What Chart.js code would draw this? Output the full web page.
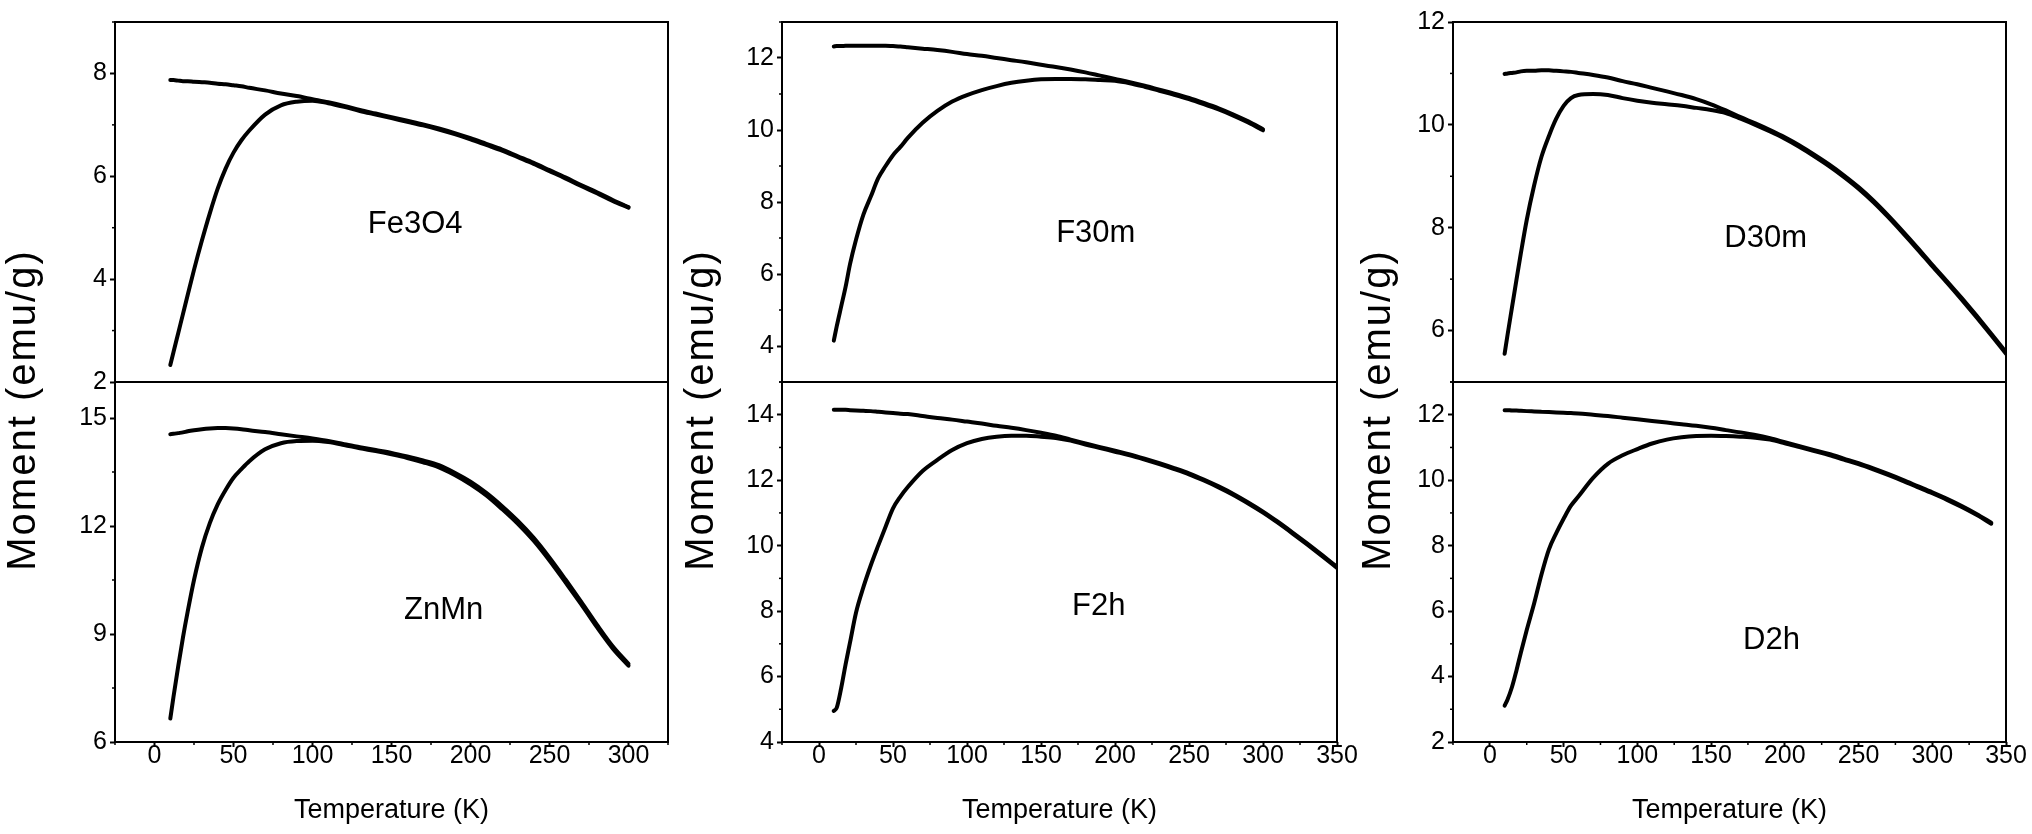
<!DOCTYPE html>
<html>
<head>
<meta charset="utf-8">
<script src="https://cdn.jsdelivr.net/npm/chart.js@4.4.1/dist/chart.umd.min.js"></script>
<style>
  body { margin: 0; background: #fff; width: 2032px; height: 834px; position: relative; overflow: hidden; }
  canvas { position: absolute; top: 0; }
</style>
</head>
<body>
<canvas id="c1" width="690" height="834" style="left:0px"></canvas>
<canvas id="c2" width="693" height="834" style="left:672px"></canvas>
<canvas id="c3" width="687" height="834" style="left:1345px"></canvas>
<script>
// temperatures (K)
const tempTo300 = [10, 12, 15, 18, 21, 25, 30, 35, 40, 45, 50, 55, 60, 70, 80, 90, 100, 110, 120, 130, 140, 150,
  160, 170, 180, 190, 200, 210, 220, 230, 240, 250, 260, 270, 280, 290, 300];
const tempTo340 = [10, 12, 15, 18, 21, 25, 30, 35, 40, 45, 50, 55, 60, 70, 80, 90, 100, 110, 120, 130, 140, 150,
  160, 170, 180, 190, 200, 210, 220, 230, 240, 250, 260, 270, 280, 290, 300, 310, 320, 330, 340];
const tempTo350 = [10, 12, 15, 18, 21, 25, 30, 35, 40, 45, 50, 55, 60, 70, 80, 90, 100, 110, 120, 130, 140, 150,
  160, 170, 180, 190, 200, 210, 220, 230, 240, 250, 260, 270, 280, 290, 300, 310, 320, 330, 340, 350];

// moment (emu/g), field cooled / zero field cooled
const fe3o4FC = [7.87, 7.87, 7.86, 7.85, 7.85, 7.84, 7.83, 7.82, 7.80, 7.79, 7.77, 7.75, 7.72,
  7.67, 7.61, 7.56, 7.50, 7.44, 7.37, 7.29, 7.22, 7.15, 7.08, 7.01, 6.93, 6.84, 6.74, 6.63, 6.52, 6.39, 6.26, 6.12, 5.98, 5.83, 5.69, 5.54, 5.40];
const fe3o4ZFC = [2.33, 2.58, 2.95, 3.32, 3.69, 4.18, 4.75, 5.28, 5.76, 6.15, 6.46, 6.70, 6.89,
  7.20, 7.38, 7.45, 7.47, 7.42, 7.35, 7.27, 7.20, 7.13, 7.06, 6.99, 6.91, 6.82, 6.72, 6.61, 6.50, 6.37, 6.24, 6.10, 5.96, 5.81, 5.67, 5.52, 5.39];

const znmnFC = [14.55, 14.56, 14.58, 14.60, 14.63, 14.66, 14.69, 14.71, 14.72, 14.72, 14.71, 14.69, 14.66,
  14.61, 14.55, 14.49, 14.43, 14.36, 14.27, 14.19, 14.11, 14.03, 13.93, 13.82, 13.69, 13.48, 13.23, 12.92, 12.55, 12.14, 11.67, 11.12, 10.52, 9.90, 9.26, 8.66, 8.17];
const znmnZFC = [6.65, 7.25, 8.10, 8.90, 9.62, 10.50, 11.40, 12.08, 12.60, 13.00, 13.34, 13.58, 13.80,
  14.13, 14.30, 14.36, 14.37, 14.33, 14.25, 14.16, 14.08, 13.99, 13.89, 13.77, 13.63, 13.42, 13.16, 12.85, 12.47, 12.06, 11.59, 11.04, 10.44, 9.83, 9.19, 8.60, 8.12];

const f30mFC = [12.32, 12.33, 12.33, 12.34, 12.34, 12.34, 12.34, 12.34, 12.34, 12.34, 12.33, 12.32, 12.30,
  12.26, 12.22, 12.17, 12.11, 12.06, 12.00, 11.94, 11.88, 11.81, 11.75, 11.68, 11.60, 11.51, 11.42, 11.33, 11.23, 11.12, 11.01, 10.89, 10.75, 10.60, 10.43, 10.24, 10.02];
const f30mZFC = [4.15, 4.55, 5.10, 5.65, 6.28, 6.95, 7.65, 8.15, 8.66, 9.00, 9.30, 9.53, 9.78,
  10.20, 10.53, 10.79, 10.97, 11.11, 11.22, 11.31, 11.37, 11.41, 11.42, 11.42, 11.41, 11.39, 11.37, 11.30, 11.20, 11.09, 10.98, 10.86, 10.72, 10.57, 10.40, 10.21, 9.99];

const f2hFC = [14.15, 14.15, 14.15, 14.15, 14.14, 14.13, 14.12, 14.11, 14.09, 14.07, 14.05, 14.03, 14.02,
  13.96, 13.90, 13.85, 13.79, 13.73, 13.66, 13.60, 13.53, 13.45, 13.36, 13.24, 13.12, 13.01, 12.90, 12.79, 12.66, 12.52, 12.37, 12.21, 12.02, 11.81, 11.58, 11.32, 11.04, 10.73, 10.40, 10.06, 9.71, 9.35];
const f2hZFC = [4.95, 5.05, 5.65, 6.38, 7.05, 7.95, 8.73, 9.40, 10.00, 10.58, 11.14, 11.50, 11.79,
  12.28, 12.62, 12.92, 13.13, 13.26, 13.33, 13.36, 13.36, 13.33, 13.29, 13.21, 13.09, 12.98, 12.87, 12.76, 12.63, 12.49, 12.34, 12.18, 11.99, 11.78, 11.55, 11.29, 11.01, 10.70, 10.37, 10.03, 9.68, 9.32];

const d30mFC = [10.99, 11.00, 11.01, 11.02, 11.04, 11.05, 11.05, 11.06, 11.06, 11.05, 11.04, 11.03, 11.01,
  10.97, 10.92, 10.85, 10.79, 10.72, 10.65, 10.58, 10.50, 10.40, 10.28, 10.15, 10.03, 9.90, 9.76, 9.60, 9.42, 9.23, 9.02, 8.79, 8.53, 8.24, 7.93, 7.61, 7.28, 6.96, 6.63, 6.29, 5.94, 5.58];
const d30mZFC = [5.55, 5.92, 6.45, 6.98, 7.50, 8.15, 8.82, 9.38, 9.78, 10.12, 10.37, 10.52, 10.58,
  10.60, 10.58, 10.52, 10.47, 10.43, 10.40, 10.37, 10.33, 10.29, 10.23, 10.12, 10.00, 9.87, 9.73, 9.57, 9.39, 9.20, 8.99, 8.76, 8.50, 8.21, 7.90, 7.58, 7.25, 6.93, 6.60, 6.26, 5.91, 5.55];

const d2hFC = [12.14, 12.14, 12.13, 12.13, 12.12, 12.11, 12.10, 12.09, 12.08, 12.07, 12.06, 12.05, 12.04,
  12.00, 11.96, 11.91, 11.86, 11.81, 11.76, 11.71, 11.66, 11.60, 11.53, 11.46, 11.38, 11.28, 11.16, 11.04, 10.92, 10.80, 10.66, 10.52, 10.36, 10.19, 10.01, 9.82, 9.63, 9.43, 9.21, 8.97, 8.70];
const d2hZFC = [3.11, 3.30, 3.68, 4.18, 4.73, 5.42, 6.23, 7.12, 7.88, 8.38, 8.82, 9.22, 9.50,
  10.07, 10.50, 10.76, 10.95, 11.12, 11.24, 11.31, 11.35, 11.36, 11.35, 11.33, 11.30, 11.24, 11.13, 11.01, 10.89, 10.77, 10.63, 10.49, 10.33, 10.16, 9.98, 9.79, 9.60, 9.40, 9.18, 8.94, 8.67];

// tick labels
const xTicks300 = [0, 50, 100, 150, 200, 250, 300];
const xMinor300 = [-25, 25, 75, 125, 175, 225, 275, 325];
const xTicks350 = [0, 50, 100, 150, 200, 250, 300, 350];
const xMinor350 = [-25, 25, 75, 125, 175, 225, 275, 325];
const fe3o4Ticks = [2, 4, 6, 8];
const fe3o4Minor = [3, 5, 7, 9];
const znmnTicks = [6, 9, 12, 15];
const znmnMinor = [7.5, 10.5, 13.5];
const f30mTicks = [4, 6, 8, 10, 12];
const f30mMinor = [3, 5, 7, 9, 11, 13];
const f2hTicks = [4, 6, 8, 10, 12, 14];
const f2hMinor = [5, 7, 9, 11, 13, 15];
const d30mTicks = [6, 8, 10, 12];
const d30mMinor = [5, 7, 9, 11];
const d2hTicks = [2, 4, 6, 8, 10, 12];
const d2hMinor = [3, 5, 7, 9, 11, 13];

const SANS = "'Liberation Sans', Arial, sans-serif";

const columns = [
  { id: 'c1', xMax: 325, xTicks: xTicks300, xMinor: xMinor300, temp: tempTo300,
    padLeft: 55, padRight: 22, titleX: 35,
    top: { min: 2, max: 9, ticks: fe3o4Ticks, minor: fe3o4Minor, fc: fe3o4FC, zfc: fe3o4ZFC, name: 'Fe3O4', at: [165, 5.07] },
    bot: { min: 6, max: 16, ticks: znmnTicks, minor: znmnMinor, fc: znmnFC, zfc: znmnZFC, name: 'ZnMn', at: [183, 9.66] } },
  { id: 'c2', xMax: 350, xTicks: xTicks350, xMinor: xMinor350, temp: tempTo300, tempBot: tempTo350,
    padLeft: 50, padRight: 28, titleX: 41,
    top: { min: 3, max: 13, ticks: f30mTicks, minor: f30mMinor, fc: f30mFC, zfc: f30mZFC, name: 'F30m', at: [187, 7.13] },
    bot: { min: 4, max: 15, ticks: f2hTicks, minor: f2hMinor, fc: f2hFC, zfc: f2hZFC, name: 'F2h', at: [189, 8.15] } },
  { id: 'c3', xMax: 350, xTicks: xTicks350, xMinor: xMinor350, temp: tempTo350, tempBot: tempTo340,
    padLeft: 48, padRight: 26, titleX: 45,
    top: { min: 5, max: 12, ticks: d30mTicks, minor: d30mMinor, fc: d30mFC, zfc: d30mZFC, name: 'D30m', at: [187, 7.79] },
    bot: { min: 2, max: 13, ticks: d2hTicks, minor: d2hMinor, fc: d2hFC, zfc: d2hZFC, name: 'D2h', at: [191, 5.11] } }
];

function pts(t, m) { return t.map((x, i) => ({ x: x, y: m[i] })); }

function line(data, axis) {
  return { data: data, yAxisID: axis, borderColor: '#000', borderWidth: 4, pointRadius: 0,
    cubicInterpolationMode: 'monotone', borderCapStyle: 'round', fill: false };
}

function yScale(p) {
  return {
    type: 'linear', position: 'left', stack: 'col', stackWeight: 1, min: p.min, max: p.max,
    afterBuildTicks: s => { s.ticks = p.ticks.map(v => ({ value: v })); },
    afterFit: s => { s.width = 60; },
    border: { display: false },
    grid: { drawOnChartArea: false, drawTicks: true, tickLength: 5, tickWidth: 2, tickColor: '#000' },
    ticks: { color: '#000', padding: 3, autoSkip: false, font: { family: SANS, size: 25 } }
  };
}

function decor(col) {
  return {
    id: 'decor',
    afterDraw(chart) {
      const ctx = chart.ctx;
      const a = chart.chartArea;
      const sx = chart.scales.x, st = chart.scales.yTop, sb = chart.scales.yBot;
      ctx.save();
      ctx.strokeStyle = '#000';
      // minor ticks
      ctx.lineWidth = 1.5;
      col.xMinor.forEach(v => {
        const p = sx.getPixelForValue(v);
        ctx.beginPath(); ctx.moveTo(p, a.bottom); ctx.lineTo(p, a.bottom + 3); ctx.stroke();
      });
      [[st, col.top.minor], [sb, col.bot.minor]].forEach(([s, vals]) => {
        vals.forEach(v => {
          const p = s.getPixelForValue(v);
          ctx.beginPath(); ctx.moveTo(a.left, p); ctx.lineTo(a.left - 3, p); ctx.stroke();
        });
      });
      // frame and divider
      ctx.lineWidth = 2;
      ctx.strokeRect(a.left, a.top, a.right - a.left, a.bottom - a.top);
      ctx.beginPath(); ctx.moveTo(a.left, st.bottom); ctx.lineTo(a.right, st.bottom); ctx.stroke();
      // panel names
      ctx.fillStyle = '#000';
      ctx.font = '31px ' + SANS;
      ctx.textAlign = 'center';
      ctx.textBaseline = 'middle';
      [[st, col.top], [sb, col.bot]].forEach(([s, p]) => {
        ctx.fillText(p.name, sx.getPixelForValue(p.at[0]), s.getPixelForValue(p.at[1]));
      });
      // y title
      ctx.translate(col.titleX, 410);
      ctx.rotate(-Math.PI / 2);
      ctx.font = '40px ' + SANS;
      if ('letterSpacing' in ctx) ctx.letterSpacing = '2px';
      ctx.textBaseline = 'alphabetic';
      ctx.fillText('Moment (emu/g)', 0, 0);
      ctx.restore();
    }
  };
}

columns.forEach(col => {
  new Chart(document.getElementById(col.id), {
    type: 'line',
    data: {
      datasets: [
        line(pts(col.temp, col.top.fc), 'yTop'),
        line(pts(col.temp, col.top.zfc), 'yTop'),
        line(pts(col.tempBot || col.temp, col.bot.fc), 'yBot'),
        line(pts(col.tempBot || col.temp, col.bot.zfc), 'yBot')
      ]
    },
    options: {
      responsive: false,
      animation: false,
      devicePixelRatio: 1,
      layout: { padding: { left: col.padLeft, right: col.padRight, top: 22, bottom: 0 } },
      plugins: { legend: { display: false }, tooltip: { enabled: false } },
      scales: {
        x: {
          type: 'linear', position: 'bottom', min: -25, max: col.xMax,
          afterBuildTicks: s => { s.ticks = col.xTicks.map(v => ({ value: v })); },
          afterFit: s => { s.height = 92; },
          border: { display: false },
          grid: { drawOnChartArea: false, drawTicks: true, tickLength: 5, tickWidth: 2, tickColor: '#000' },
          ticks: { color: '#000', padding: -6, maxRotation: 0, autoSkip: false, font: { family: SANS, size: 25 } },
          title: { display: true, text: 'Temperature (K)', color: '#000', padding: { top: 0, bottom: 7 },
            font: { family: SANS, size: 27 } }
        },
        yBot: yScale(col.bot),
        yTop: yScale(col.top)
      }
    },
    plugins: [decor(col)]
  });
});
</script>
</body>
</html>
